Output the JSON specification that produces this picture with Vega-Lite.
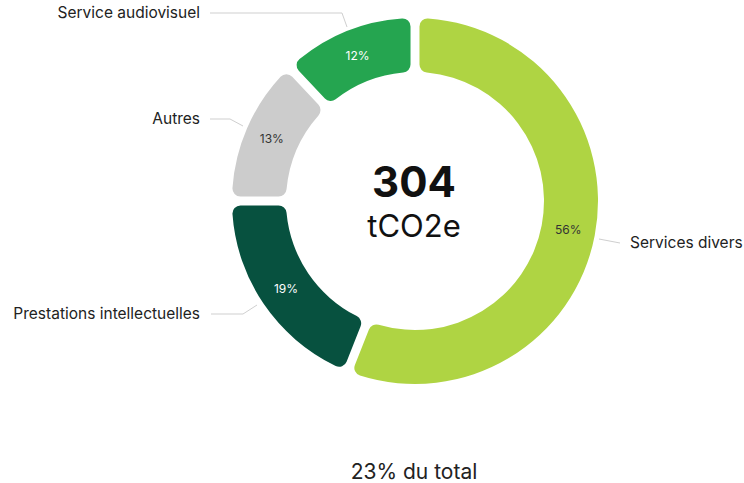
{
  "$schema": "https://vega.github.io/schema/vega-lite/v6.json",
  "width": 744,
  "height": 483,
  "padding": 0,
  "autosize": {"type": "fit", "contains": "padding"},
  "background": "white",
  "config": {"view": {"stroke": null}, "font": "Inter", "text": {"font": "Inter"}},
  "datasets": {
    "parts": [
      {"categorie": "Services divers", "part": 56, "rang": 1, "etiquette": "56%"},
      {"categorie": "Prestations intellectuelles", "part": 19, "rang": 2, "etiquette": "19%"},
      {"categorie": "Autres", "part": 13, "rang": 3, "etiquette": "13%"},
      {"categorie": "Service audiovisuel", "part": 12, "rang": 4, "etiquette": "12%"}
    ],
    "reperes": [
      {"categorie": "Services divers", "pt": 1, "x": 184, "y": -38},
      {"categorie": "Services divers", "pt": 2, "x": 205, "y": -42},
      {"categorie": "Prestations intellectuelles", "pt": 1, "x": -158, "y": -104},
      {"categorie": "Prestations intellectuelles", "pt": 2, "x": -172, "y": -113},
      {"categorie": "Prestations intellectuelles", "pt": 3, "x": -204, "y": -113},
      {"categorie": "Autres", "pt": 1, "x": -172, "y": 75},
      {"categorie": "Autres", "pt": 2, "x": -185, "y": 82},
      {"categorie": "Autres", "pt": 3, "x": -205, "y": 82},
      {"categorie": "Service audiovisuel", "pt": 1, "x": -68, "y": 174},
      {"categorie": "Service audiovisuel", "pt": 2, "x": -73, "y": 188},
      {"categorie": "Service audiovisuel", "pt": 3, "x": -205, "y": 188}
    ],
    "libelles": [
      {"categorie": "Services divers", "x": 215, "y": -42},
      {"categorie": "Prestations intellectuelles", "x": -215, "y": -113},
      {"categorie": "Autres", "x": -215, "y": 82},
      {"categorie": "Service audiovisuel", "x": -215, "y": 188}
    ]
  },
  "layer": [
    {
      "data": {"name": "parts"},
      "mark": {"type": "arc", "innerRadius": 129, "outerRadius": 183, "padAngle": 0.04, "cornerRadius": 8},
      "encoding": {
        "x": {"datum": 0, "type": "quantitative", "scale": {"domain": [-415, 329], "nice": false, "zero": false}, "axis": null},
        "y": {"datum": 0, "type": "quantitative", "scale": {"domain": [-282, 201], "nice": false, "zero": false}, "axis": null},
        "theta": {"field": "part", "type": "quantitative", "stack": true},
        "order": {"field": "rang", "type": "quantitative"},
        "color": {
          "field": "categorie",
          "type": "nominal",
          "scale": {
            "domain": ["Services divers", "Prestations intellectuelles", "Autres", "Service audiovisuel"],
            "range": ["#AFD443", "#07513F", "#CCCCCC", "#25A550"]
          },
          "legend": null
        }
      }
    },
    {
      "data": {"name": "parts"},
      "mark": {"type": "text", "radius": 156, "fontSize": 12, "align": "center", "baseline": "middle"},
      "encoding": {
        "x": {"datum": 0, "type": "quantitative"},
        "y": {"datum": 0, "type": "quantitative"},
        "theta": {"field": "part", "type": "quantitative", "stack": true},
        "order": {"field": "rang", "type": "quantitative"},
        "text": {"field": "etiquette", "type": "nominal"},
        "color": {"condition": {"test": "datum.rang == 1 || datum.rang == 3", "value": "#333333"}, "value": "#ffffff"}
      }
    },
    {
      "data": {"name": "reperes"},
      "mark": {"type": "line", "color": "#cfcfcf", "strokeWidth": 1},
      "encoding": {
        "x": {"field": "x", "type": "quantitative"},
        "y": {"field": "y", "type": "quantitative"},
        "detail": {"field": "categorie", "type": "nominal"},
        "order": {"field": "pt", "type": "quantitative"}
      }
    },
    {
      "data": {"name": "libelles"},
      "transform": [{"filter": "datum.x > 0"}],
      "mark": {"type": "text", "align": "left", "baseline": "middle", "fontSize": 15.5, "color": "#222222"},
      "encoding": {
        "x": {"field": "x", "type": "quantitative"},
        "y": {"field": "y", "type": "quantitative"},
        "text": {"field": "categorie", "type": "nominal"}
      }
    },
    {
      "data": {"name": "libelles"},
      "transform": [{"filter": "datum.x < 0"}],
      "mark": {"type": "text", "align": "right", "baseline": "middle", "fontSize": 15.5, "color": "#222222"},
      "encoding": {
        "x": {"field": "x", "type": "quantitative"},
        "y": {"field": "y", "type": "quantitative"},
        "text": {"field": "categorie", "type": "nominal"}
      }
    },
    {
      "data": {"values": [{"texte": "304"}]},
      "mark": {"type": "text", "align": "center", "baseline": "alphabetic", "fontSize": 42, "fontWeight": "bold", "color": "#111111"},
      "encoding": {
        "x": {"datum": -1, "type": "quantitative"},
        "y": {"datum": 4, "type": "quantitative"},
        "text": {"field": "texte", "type": "nominal"}
      }
    },
    {
      "data": {"values": [{"texte": "tCO2e"}]},
      "mark": {"type": "text", "align": "center", "baseline": "alphabetic", "fontSize": 31, "color": "#111111"},
      "encoding": {
        "x": {"datum": -1, "type": "quantitative"},
        "y": {"datum": -36, "type": "quantitative"},
        "text": {"field": "texte", "type": "nominal"}
      }
    },
    {
      "data": {"values": [{"texte": "23% du total"}]},
      "mark": {"type": "text", "align": "center", "baseline": "alphabetic", "fontSize": 21, "color": "#222222"},
      "encoding": {
        "x": {"datum": -1, "type": "quantitative"},
        "y": {"datum": -278, "type": "quantitative"},
        "text": {"field": "texte", "type": "nominal"}
      }
    }
  ]
}
